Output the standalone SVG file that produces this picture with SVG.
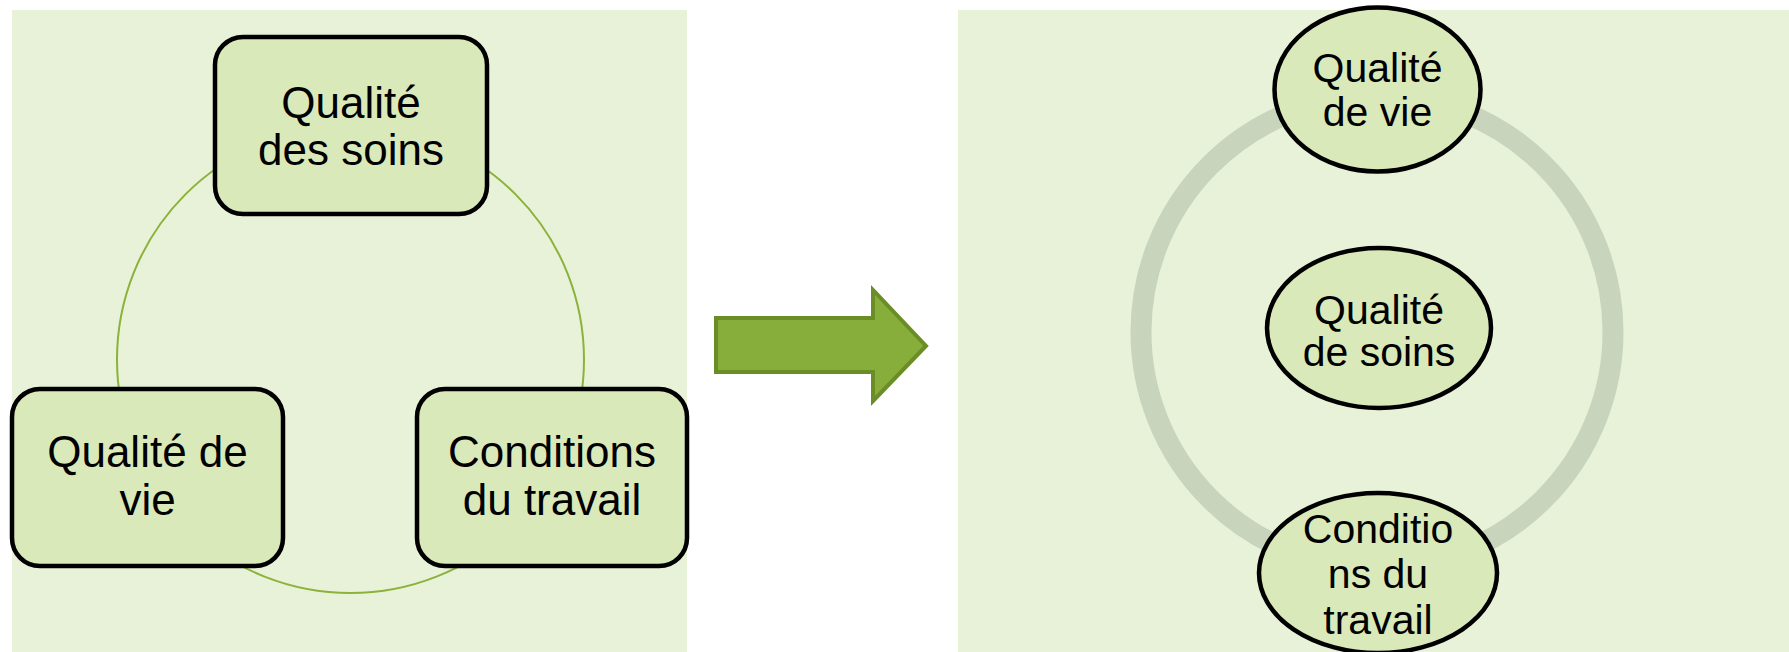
<svg xmlns="http://www.w3.org/2000/svg" width="1789" height="652" viewBox="0 0 1789 652">
<style>
.panel{fill:#e8f2d9}
.box{fill:#d9e9b9;stroke:#000;stroke-width:4.5}
.t{font-family:"Liberation Sans",Arial,sans-serif;fill:#000;text-anchor:middle}
.big{font-size:44px}
.sm{font-size:41px}
.link{fill:none;stroke:#8bb23a;stroke-width:2}
.ring{fill:none;stroke:#c8d5bc;stroke-width:21}
</style>
<rect class="panel" x="12" y="10" width="675" height="642"/>
<rect class="panel" x="958" y="10" width="831" height="642"/>
<g id="connectors">
<circle class="link" cx="350.5" cy="359.5" r="233.5"/>
<circle class="ring" cx="1377" cy="332" r="236"/>
<path id="big-arrow" d="M716,318 H873 V290 L926,346 L873,401 V372 H716 Z" fill="#87ad3b" stroke="#6a8d26" stroke-width="4"/>
</g>
<g id="node-qualite-soins">
<rect class="box" x="215" y="37" width="272" height="177" rx="28"/>
<text class="t big" x="351" y="118">Qualité</text>
<text class="t big" x="351" y="165">des soins</text>
</g>
<g id="node-qualite-vie">
<rect class="box" x="12" y="389" width="271" height="177" rx="28"/>
<text class="t big" x="147.5" y="467">Qualité de</text>
<text class="t big" x="147.5" y="515">vie</text>
</g>
<g id="node-conditions">
<rect class="box" x="417" y="389" width="270" height="177" rx="28"/>
<text class="t big" x="552" y="467">Conditions</text>
<text class="t big" x="552" y="515">du travail</text>
</g>
<g id="node-r-vie">
<ellipse class="box" cx="1377.5" cy="89.5" rx="103" ry="82"/>
<text class="t sm" x="1377.5" y="82">Qualité</text>
<text class="t sm" x="1377.5" y="126">de vie</text>
</g>
<g id="node-r-soins">
<ellipse class="box" cx="1379" cy="328" rx="112" ry="80"/>
<text class="t sm" x="1379" y="324">Qualité</text>
<text class="t sm" x="1379" y="366">de soins</text>
</g>
<g id="node-r-conditions">
<ellipse class="box" cx="1378" cy="573" rx="119" ry="80"/>
<text class="t sm" x="1378" y="543">Conditio</text>
<text class="t sm" x="1378" y="588">ns du</text>
<text class="t sm" x="1378" y="634">travail</text>
</g>
</svg>
